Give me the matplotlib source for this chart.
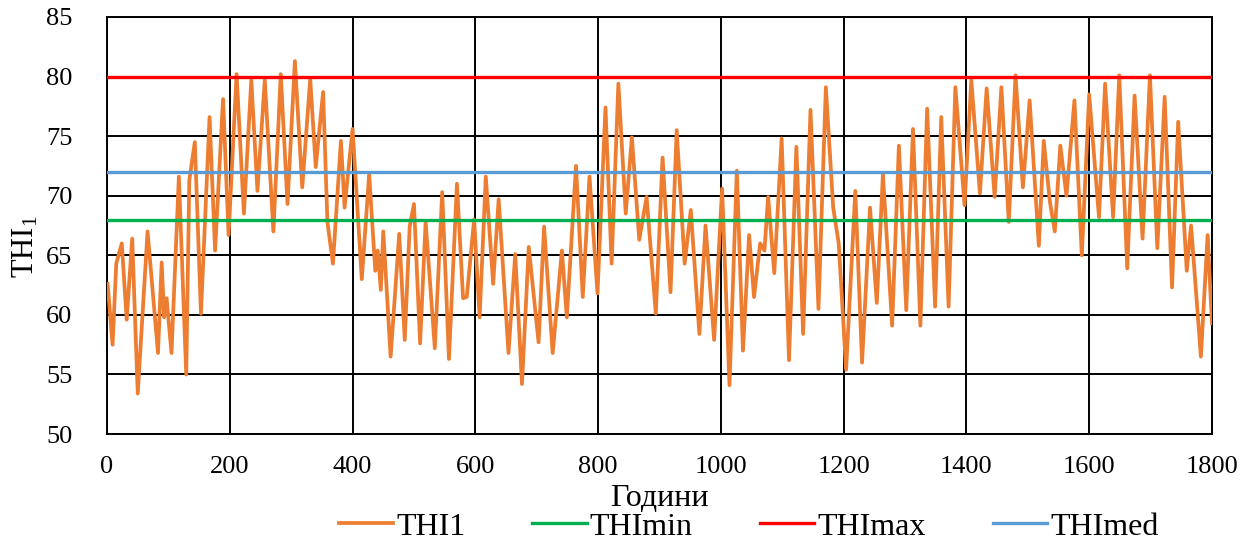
import matplotlib
matplotlib.use('Agg')
import matplotlib.pyplot as plt

plt.rcParams['font.family'] = ['Liberation Serif', 'DejaVu Serif']
plt.rcParams['mathtext.fontset'] = 'custom'
plt.rcParams['mathtext.rm'] = 'Liberation Serif'
plt.rcParams['mathtext.it'] = 'Liberation Serif:italic'

# daily turning points of THI1 (hour, value)
hours = [1, 9, 15, 24, 32, 41, 50, 66, 83, 89, 93, 97, 105, 117, 129, 134, 143, 153, 167, 176,
         189, 198, 211, 223, 235, 245, 257, 271, 283, 294, 306, 318, 331, 340, 352, 359, 368, 381, 387, 400,
         415, 427, 437, 441, 446, 450, 462, 476, 485, 493, 500, 510, 519, 534, 546, 557, 570, 580, 586, 598,
         607, 617, 629, 638, 654, 665, 676, 687, 703, 712, 726, 741, 749, 764, 775, 786, 799,
         812, 822, 833, 845, 855, 867, 879, 894, 905, 918, 928, 941, 951, 965, 975, 989,
         1002, 1014, 1026, 1036, 1046, 1054, 1064, 1071, 1077, 1087, 1099, 1111, 1123, 1134, 1146, 1159,
         1171, 1183, 1192, 1204, 1219, 1230, 1243, 1254, 1264, 1279, 1290, 1302, 1313, 1325, 1336, 1349,
         1359, 1371, 1382, 1397, 1408, 1422, 1433, 1446, 1457, 1469, 1480, 1492, 1503, 1518, 1526, 1536,
         1544, 1553, 1563, 1576, 1588, 1600, 1616, 1626, 1639, 1649, 1662, 1674, 1687, 1699, 1711, 1723,
         1735, 1745, 1759, 1766, 1782, 1793, 1800]
thi1 = [62.6, 57.5, 64.3, 66.0, 59.6, 66.4, 53.4, 67.0, 56.8, 64.4, 59.8, 61.4, 56.8, 71.6, 55.0, 71.3, 74.5, 60.1, 76.6, 65.4,
        78.1, 66.7, 80.2, 68.5, 79.7, 70.4, 79.7, 67.0, 80.2, 69.3, 81.3, 70.7, 79.8, 72.4, 78.7, 67.8, 64.3, 74.6, 69.0, 75.6,
        63.0, 71.8, 63.7, 65.4, 62.1, 67.0, 56.5, 66.8, 57.9, 67.4, 69.3, 57.6, 67.8, 57.2, 70.3, 56.3, 71.0, 61.4, 61.5, 68.0,
        59.8, 71.6, 62.6, 69.7, 56.8, 65.1, 54.2, 65.7, 57.7, 67.4, 56.8, 65.4, 59.8, 72.5, 61.5, 71.6, 61.8,
        77.4, 64.3, 79.4, 68.5, 74.9, 66.3, 69.9, 60.1, 73.2, 61.9, 75.5, 64.3, 68.8, 58.4, 67.5, 57.9,
        70.6, 54.1, 72.1, 57.0, 66.7, 61.5, 66.0, 65.4, 69.9, 63.5, 74.8, 56.2, 74.1, 58.4, 77.2, 60.5,
        79.1, 69.0, 66.0, 55.4, 70.4, 56.0, 69.0, 61.0, 71.8, 59.1, 74.2, 60.4, 75.6, 59.1, 77.3, 60.7,
        76.6, 60.7, 79.1, 69.2, 79.7, 70.2, 79.0, 69.9, 79.1, 67.8, 80.1, 70.7, 78.0, 65.8, 74.6, 69.5,
        67.0, 74.2, 70.0, 78.0, 65.0, 78.5, 68.2, 79.4, 68.2, 80.1, 63.9, 78.4, 66.4, 80.1, 65.6, 78.3,
        62.3, 76.2, 63.7, 67.5, 56.5, 66.7, 59.3]

thi_min = 68
thi_max = 80
thi_med = 72

fig = plt.figure(figsize=(12.52, 5.46), dpi=100)
ax = fig.add_axes([0.0855, 0.205, 0.8825, 0.764])

ax.plot(hours, thi1, color='#ED7D31', linewidth=2.7, label='THI1', zorder=3)
ax.axhline(thi_min, color='#00B050', linewidth=2.4, label='THImin', zorder=4)
ax.axhline(thi_max, color='#FF0000', linewidth=2.4, label='THImax', zorder=4)
ax.axhline(thi_med, color='#5B9BD5', linewidth=2.4, label='THImed', zorder=4)

ax.set_xlim(0, 1800)
ax.set_ylim(50, 85)
ax.set_xticks(range(0, 1801, 200))
ax.set_yticks(range(50, 86, 5))
ax.grid(True, color='black', linewidth=1.4)
ax.set_axisbelow(True)
for s in ax.spines.values():
    s.set_color('black')
    s.set_linewidth(1.4)
ax.tick_params(length=0, labelsize=19, pad=16)
ax.tick_params(axis='y', pad=25)

ax.set_xlabel('Години', fontsize=23, labelpad=4)
ax.set_ylabel('THI$_1$', fontsize=22)
ax.yaxis.set_label_coords(-0.06, 0.45)

ax.legend(loc='center', bbox_to_anchor=(0.598, 0.035), bbox_transform=fig.transFigure,
          ncol=4, frameon=False, fontsize=23, handlelength=1.7, handletextpad=0.1,
          columnspacing=2.1, borderaxespad=0, borderpad=0)

fig.savefig('out.png', dpi=100)
